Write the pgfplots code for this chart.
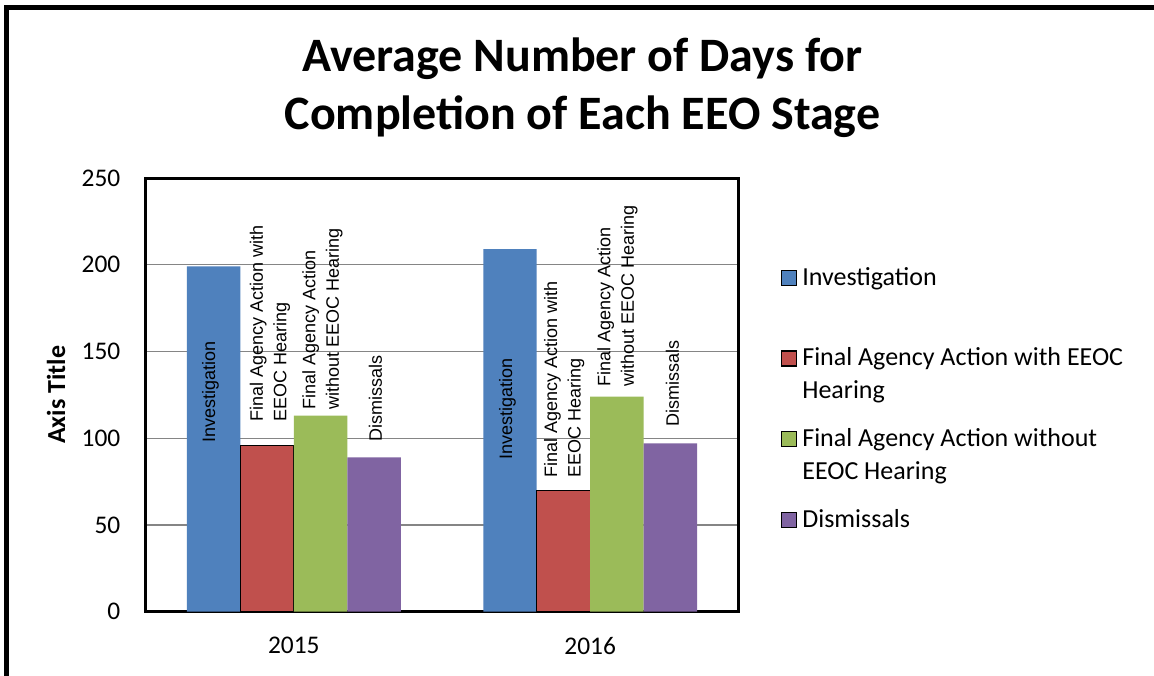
\documentclass[border=0pt]{standalone}
\usepackage{fontspec}
\setmainfont{Carlito}
\newfontfamily\arial{Liberation Sans}
\usepackage{pgfplots}
\pgfplotsset{compat=1.18}
\definecolor{cInv}{HTML}{4F81BD}
\definecolor{cWith}{HTML}{C0504D}
\definecolor{cWithout}{HTML}{9BBB59}
\definecolor{cDis}{HTML}{8064A2}
\newcommand{\LE}[1]{\vtop{#1}}
\tikzset{lbl/.style={rotate=90, anchor=west, inner sep=0pt, align=left, font=\arial\fontsize{9}{11.75}\selectfont}}
\begin{document}
\begin{tikzpicture}
\path[use as bounding box, fill=white] (0,0) rectangle (577pt,337.5pt);
\draw[line width=2.5pt] (3.15pt,-5pt) -- (3.15pt,333.9pt) -- (590pt,333.9pt);
\node[anchor=base, font=\bfseries\fontsize{24}{28}\selectfont, inner sep=0pt] at (291.25pt,301.65pt) {Average Number of Days for};
\node[anchor=base, font=\bfseries\fontsize{24}{28}\selectfont, inner sep=0pt] at (291.25pt,272.5pt) {Completion of Each EEO Stage};
\begin{axis}[
  at={(72.85pt,31.65pt)}, anchor=south west,
  scale only axis, width=296.3pt, height=216.85pt,
  xmin=-0.5, xmax=1.5, ymin=0, ymax=250,
  xtick={0,1}, xticklabels={2015,2016},
  ytick={0,50,100,150,200,250},
  ymajorgrids, grid style={color=black!48, line width=0.6pt},
  major tick length=0pt,
  axis line style={line width=1.5pt},
  /pgf/number format/assume math mode=true,
  ticklabel style={font=\fontsize{12.7}{15}\selectfont},
  yticklabel style={anchor=east, inner sep=0pt, xshift=-12.5pt},
  xticklabel style={anchor=north, inner sep=0pt, yshift=-12.5pt},
  ylabel={Axis Title},
  ylabel style={at={(axis description cs:-0.1510,0.5)}, anchor=center, font=\bfseries\fontsize{13}{15}\selectfont},
  legend cell align=left,
  legend style={at={(axis description cs:1.0716,0.8042)}, anchor=north west, draw=none, fill=none,
    inner sep=0pt, row sep=25.8pt, column sep=0.5pt,
    cells={anchor=base west, inner sep=0pt},
    font=\fontsize{13}{16.5}\selectfont},
  legend image code/.code={\draw[#1, line width=0.6pt] (0pt,0pt) rectangle (7.5pt,7.5pt);},
]
\addplot[ybar, bar width=0.1804, bar shift=-0.2706, fill=cInv, draw=none] coordinates {(0,199) (1,209)};
\addlegendentry{\LE{\hbox{Investigation}}}
\addplot[ybar, bar width=0.1804, bar shift=-0.0902, fill=cWith, draw=black, line width=0.6pt] coordinates {(0,96) (1,70)};
\addlegendentry{\LE{\hbox{Final Agency Action with EEOC}\hbox{Hearing}}}
\addplot[ybar, bar width=0.1804, bar shift=0.0902, fill=cWithout, draw=none] coordinates {(0,113) (1,124)};
\addlegendentry{\LE{\hbox{Final Agency Action without}\hbox{EEOC Hearing}}}
\addplot[ybar, bar width=0.1804, bar shift=0.2706, fill=cDis, draw=none] coordinates {(0,89) (1,97)};
\addlegendentry{\LE{\hbox{Dismissals}}}
\node[lbl] at (axis cs:-0.2813,97.3) {Investigation};
\node[lbl] at (axis cs:-0.0805,109.5) {Final Agency Action with\\EEOC Hearing};
\node[lbl] at (axis cs:0.0967,116.3) {Final Agency Action\\without EEOC Hearing};
\node[lbl] at (axis cs:0.2756,98.0) {Dismissals};
\node[lbl] at (axis cs:0.7211,87.5) {Investigation};
\node[lbl] at (axis cs:0.9124,76.9) {Final Agency Action with\\EEOC Hearing};
\node[lbl] at (axis cs:1.0923,129.7) {Final Agency Action\\without EEOC Hearing};
\node[lbl] at (axis cs:1.2779,106.6) {Dismissals};
\end{axis}
\end{tikzpicture}
\end{document}
